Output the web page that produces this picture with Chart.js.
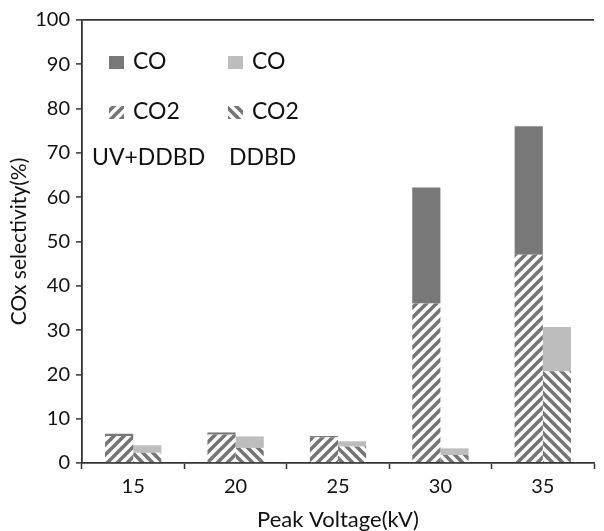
<!DOCTYPE html>
<html>
<head>
<meta charset="utf-8">
<script src="https://cdn.jsdelivr.net/npm/chart.js@4"></script>
<style>
  html, body { margin: 0; padding: 0; background: #fff; }
  #wrap { width: 604px; height: 531px; }
</style>
</head>
<body>
<div id="wrap"><canvas id="chart" width="604" height="531"></canvas></div>
<script>
// ============================================================
//  Datos
// ============================================================
const voltajes = ['15', '20', '25', '30', '35'];
const uvCO2    = [6.1, 6.4, 5.8, 36.0, 47.0];
const uvCO     = [0.5, 0.5, 0.3, 26.2, 29.0];
const ddbdCO2  = [2.3, 3.4, 3.7, 1.8, 20.7];
const ddbdCO   = [1.7, 2.6, 1.2, 1.5, 10.0];
const yTicks   = [0, 10, 20, 30, 40, 50, 60, 70, 80, 90, 100];

const FONT = 'Lato, "Open Sans", sans-serif';
const TEXT = '#111';
const AXIS = '#333';
const DARK = '#787878';
const LIGHT = '#bdbdbd';

// ============================================================
//  Rayado diagonal ("/" o "\")
// ============================================================
function hatch(dir) {
    const s = 10;
    const c = document.createElement('canvas');
    c.width = s; c.height = s;
    const g = c.getContext('2d');
    g.fillStyle = '#fff';
    g.fillRect(0, 0, s, s);
    g.strokeStyle = '#757575';
    g.lineWidth = 3.6;
    g.beginPath();
    if (dir === '/') {
        g.moveTo(-2, s + 2); g.lineTo(s + 2, -2);
        g.moveTo(-2, 2); g.lineTo(2, -2);
        g.moveTo(s - 2, s + 2); g.lineTo(s + 2, s - 2);
    } else {
        g.moveTo(-2, -2); g.lineTo(s + 2, s + 2);
        g.moveTo(s - 2, -2); g.lineTo(s + 2, 2);
        g.moveTo(-2, s - 2); g.lineTo(2, s + 2);
    }
    g.stroke();
    return g.createPattern(c, 'repeat');
}

const hatchA = hatch('/');
const hatchB = hatch('\\');

// ============================================================
//  Leyenda dentro del área del gráfico (2 columnas)
// ============================================================
const legendPlugin = {
    id: 'inLegend',
    afterDraw(chart) {
        const { ctx, chartArea } = chart;
        const L = chartArea.left, T = chartArea.top;
        const ds = chart.data.datasets;
        const cols = [27, 146];
        ctx.save();
        ctx.font = '23px ' + FONT;
        ctx.fillStyle = TEXT;
        ctx.textBaseline = 'middle';
        // fila 1: CO, fila 2: CO2
        const rows = [
            { y: 42, items: [ds[1], ds[3]] },
            { y: 92, items: [ds[0], ds[2]] }
        ];
        rows.forEach(r => {
            r.items.forEach((d, i) => {
                const x = L + cols[i];
                ctx.fillStyle = d.backgroundColor;
                ctx.fillRect(x, T + r.y - 6, 15, 13);
                ctx.fillStyle = TEXT;
                ctx.fillText(d.label, x + 24, T + r.y);
            });
        });
        ctx.fillText('UV+DDBD', L + 10, T + 138);
        ctx.fillText('DDBD', L + 147, T + 138);
        ctx.restore();
    }
};

new Chart(document.getElementById('chart'), {
    type: 'bar',
    data: {
        labels: voltajes,
        datasets: [
            { label: 'CO2', data: uvCO2,   stack: 'uv',   backgroundColor: hatchA },
            { label: 'CO',  data: uvCO,    stack: 'uv',   backgroundColor: DARK },
            { label: 'CO2', data: ddbdCO2, stack: 'ddbd', backgroundColor: hatchB },
            { label: 'CO',  data: ddbdCO,  stack: 'ddbd', backgroundColor: LIGHT }
        ]
    },
    options: {
        responsive: false,
        animation: false,
        categoryPercentage: 0.55,
        barPercentage: 1.0,
        layout: { padding: { top: 20, right: 10, left: 0, bottom: 0 } },
        plugins: {
            legend: { display: false },
            tooltip: { enabled: false }
        },
        scales: {
            x: {
                stacked: true,
                afterFit: s => { s.height = 68; },
                grid: {
                    color: 'transparent',
                    tickColor: AXIS,
                    tickLength: 6,
                    tickWidth: 1.5
                },
                border: { display: true, color: AXIS, width: 1.8 },
                ticks: { color: TEXT, padding: 6, font: { size: 20, family: FONT } },
                title: {
                    display: true,
                    text: 'Peak Voltage(kV)',
                    color: TEXT,
                    padding: { top: 0, bottom: -2 },
                    font: { size: 22, family: FONT }
                }
            },
            y: {
                stacked: true,
                min: 0,
                max: 100,
                afterFit: s => { s.width = 82; },
                afterBuildTicks: s => { s.ticks = yTicks.map(v => ({ value: v })); },
                grid: {
                    color: c => (c.tick && c.tick.value === 100 ? AXIS : 'transparent'),
                    lineWidth: 1.8,
                    tickColor: AXIS,
                    tickLength: 6,
                    tickWidth: 1.5
                },
                border: { display: true, color: AXIS, width: 1.8 },
                ticks: { color: TEXT, padding: 6, font: { size: 20, family: FONT } },
                title: {
                    display: true,
                    text: 'COx selectivity(%)',
                    color: TEXT,
                    padding: { top: 7, bottom: 0 },
                    font: { size: 21, family: FONT }
                }
            }
        }
    },
    plugins: [legendPlugin]
});
</script>
</body>
</html>
